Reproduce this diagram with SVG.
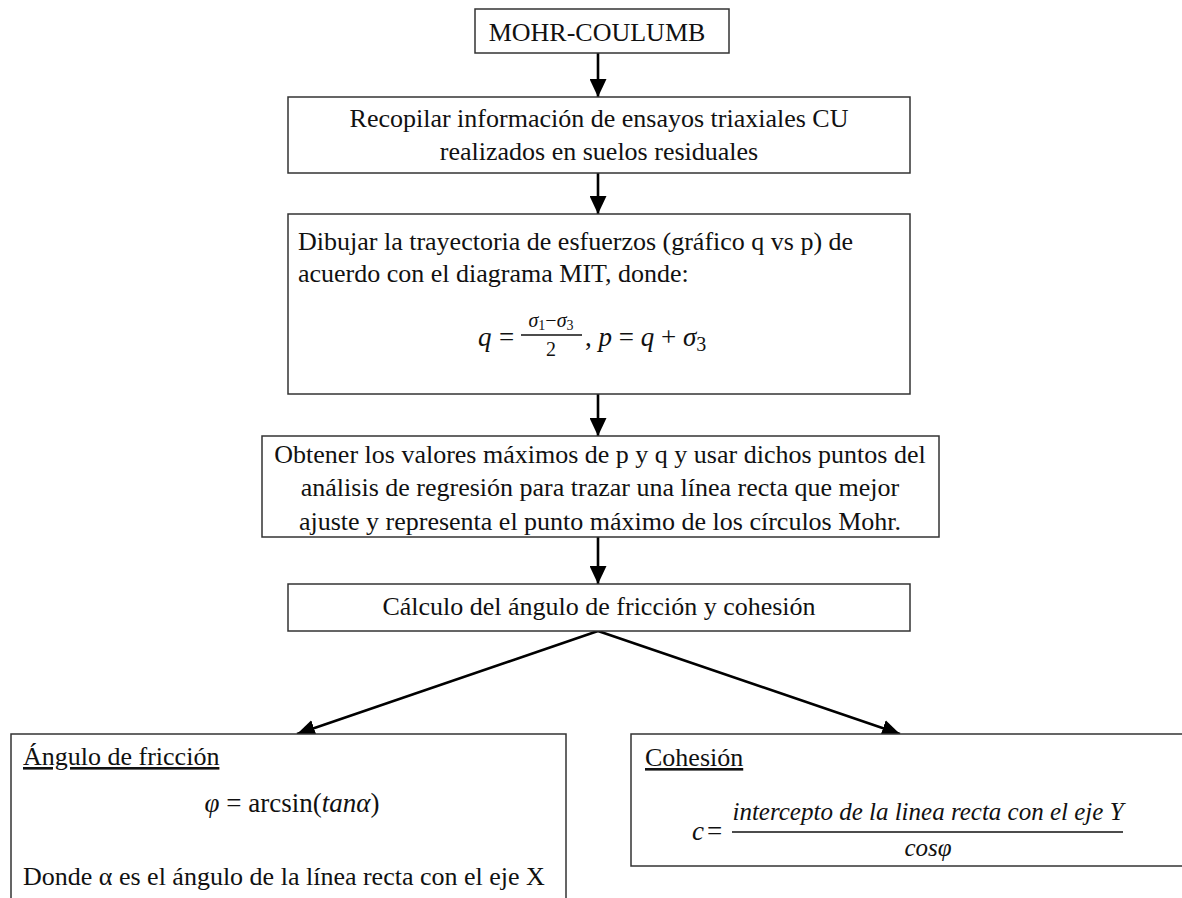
<svg xmlns="http://www.w3.org/2000/svg" width="1182" height="898" viewBox="0 0 1182 898">
  <defs>
    <style>
      .box { fill: #ffffff; stroke: #333333; stroke-width: 1.5; }
      .t { font-family: "Liberation Serif", "Times New Roman", serif; font-size: 26px; fill: #111111; }
      .c { text-anchor: middle; }
      .m { font-family: "Liberation Serif", "Times New Roman", serif; font-size: 27px; fill: #111111; }
      .s { font-size: 20px; }
      .ss { font-size: 14px; }
      .n { font-size: 25px; }
      .i { font-style: italic; }
      .u { text-decoration: underline; }
      .conn { stroke: #000000; stroke-width: 2.6; fill: none; marker-end: url(#arrow); }
    </style>
    <marker id="arrow" markerUnits="userSpaceOnUse" viewBox="0 0 18 17" markerWidth="18" markerHeight="17" refX="18" refY="8.5" orient="auto">
      <path d="M0,0 L18,8.5 L0,17 Z" fill="#000000"/>
    </marker>
  </defs>
  <rect x="0" y="0" width="1182" height="898" fill="#ffffff"/>

  <g id="connectors">
    <line class="conn" x1="598" y1="53" x2="598" y2="97"/>
    <line class="conn" x1="598" y1="173" x2="598" y2="214"/>
    <line class="conn" x1="598" y1="394" x2="598" y2="436"/>
    <line class="conn" x1="598" y1="537" x2="598" y2="584"/>
    <line class="conn" x1="598" y1="631" x2="297" y2="734"/>
    <line class="conn" x1="598" y1="631" x2="900" y2="734"/>
  </g>

  <g id="node-mohr">
    <rect class="box" x="475" y="9" width="254" height="44"/>
    <text class="t c" x="597" y="41">MOHR-COULUMB</text>
  </g>

  <g id="node-recopilar">
    <rect class="box" x="288" y="97" width="622" height="76"/>
    <text class="t c" x="599" y="127">Recopilar información de ensayos triaxiales CU</text>
    <text class="t c" x="599" y="160">realizados en suelos residuales</text>
  </g>

  <g id="node-dibujar">
    <rect class="box" x="288" y="214" width="622" height="180"/>
    <text class="t" x="298" y="250">Dibujar la trayectoria de esfuerzos (gráfico q vs p) de</text>
    <text class="t" x="298" y="282">acuerdo con el diagrama MIT, donde:</text>
    <g id="formula-q">
      <text class="m i" x="478" y="346">q</text>
      <text class="m" x="499" y="346">=</text>
      <text class="m s c" x="551" y="327"><tspan class="i">σ</tspan><tspan class="ss" dy="3">1</tspan><tspan dy="-3">−</tspan><tspan class="i">σ</tspan><tspan class="ss" dy="3">3</tspan></text>
      <line x1="521" y1="335" x2="582" y2="335" stroke="#111111" stroke-width="1.3"/>
      <text class="m s c" x="551" y="356">2</text>
      <text class="m" x="585" y="346">, <tspan class="i">p</tspan> = <tspan class="i">q</tspan> + <tspan class="i">σ</tspan><tspan class="s" dy="5">3</tspan></text>
    </g>
  </g>

  <g id="node-obtener">
    <rect class="box" x="262" y="436" width="677" height="101"/>
    <text class="t c" x="600" y="463">Obtener los valores máximos de p y q y usar dichos puntos del</text>
    <text class="t c" x="600" y="496">análisis de regresión para trazar una línea recta que mejor</text>
    <text class="t c" x="600" y="530">ajuste y representa el punto máximo de los círculos Mohr.</text>
  </g>

  <g id="node-calculo">
    <rect class="box" x="288" y="584" width="622" height="47"/>
    <text class="t c" x="599" y="615">Cálculo del ángulo de fricción y cohesión</text>
  </g>

  <g id="node-friccion">
    <rect class="box" x="11" y="734" width="555" height="190"/>
    <text class="t u" x="23" y="765">Ángulo de fricción</text>
    <text class="m c" x="292" y="812"><tspan class="i">φ</tspan> = arcsin(<tspan class="i">tanα</tspan>)</text>
    <text class="t" x="23" y="885">Donde α es el ángulo de la línea recta con el eje X</text>
  </g>

  <g id="node-cohesion">
    <rect class="box" x="631" y="734" width="570" height="132"/>
    <text class="t u" x="645" y="766">Cohesión</text>
    <text class="m i" x="692" y="840">c</text>
    <text class="m" x="707" y="840">=</text>
    <text class="m n i c" x="928" y="820">intercepto de la linea recta con el eje Y</text>
    <line x1="732" y1="832" x2="1123" y2="832" stroke="#111111" stroke-width="1.3"/>
    <text class="m n i c" x="928" y="856">cosφ</text>
  </g>
</svg>
